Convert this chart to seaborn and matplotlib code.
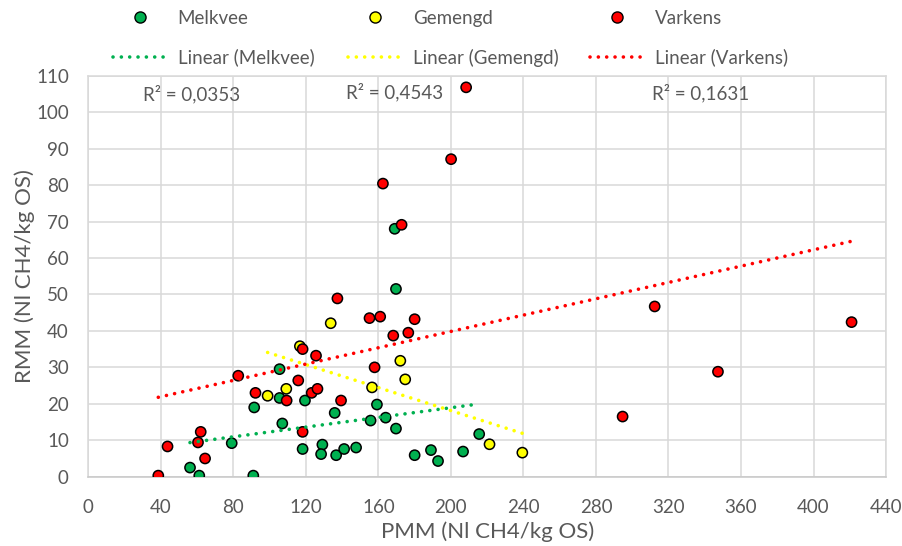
import numpy as np
import pandas as pd
import seaborn as sns
import matplotlib.pyplot as plt
from matplotlib.lines import Line2D

# PMM / RMM measurements per farm type (Nl CH4/kg OS)
melkvee_pmm = [105.5, 105.5, 119.5, 91.5, 135.9, 159.2, 107.0, 155.7, 79.1, 118.2,
               129.1, 128.4, 136.7, 141.1, 147.7, 56.1, 61.2, 91.0, 169.7, 164.0,
               169.7, 180.0, 189.0, 192.9, 206.7, 215.6, 169.0]
melkvee_rmm = [29.5, 21.6, 20.9, 19.0, 17.5, 19.8, 14.6, 15.4, 9.2, 7.6,
               8.8, 6.2, 5.9, 7.6, 8.0, 2.5, 0.3, 0.3, 51.5, 16.2,
               13.2, 5.9, 7.3, 4.3, 6.9, 11.7, 68.0]

gemengd_pmm = [133.7, 116.7, 109.2, 98.9, 156.5, 172.1, 174.8, 221.3, 239.4]
gemengd_rmm = [42.1, 35.8, 24.1, 22.2, 24.5, 31.8, 26.7, 8.9, 6.6]

varkens_pmm = [137.4, 155.1, 161.0, 118.2, 125.6, 82.7, 157.9, 115.8, 92.2, 109.4,
               123.2, 126.4, 139.4, 118.2, 62.0, 60.5, 43.7, 64.4, 38.6, 180.0,
               168.2, 176.5, 172.8, 208.4, 200.1, 162.5, 312.4, 421.0, 347.3, 294.7]
varkens_rmm = [48.9, 43.5, 43.9, 35.0, 33.2, 27.7, 30.0, 26.4, 23.0, 20.9,
               23.0, 24.1, 20.9, 12.3, 12.3, 9.4, 8.3, 5.0, 0.3, 43.2,
               38.7, 39.5, 69.1, 106.8, 87.1, 80.4, 46.7, 42.4, 28.8, 16.5]

groups = ["Melkvee", "Gemengd", "Varkens"]
colors = ["#00B050", "#FFFF00", "#FF0000"]
r2_labels = ["R² = 0,0353", "R² = 0,4543", "R² = 0,1631"]
r2_pos = [(56.7, 104.9), (168.9, 105.6), (337.9, 105.2)]

x_ticks = list(range(0, 441, 40))
y_ticks = list(range(0, 111, 10))

df = pd.DataFrame({
    "PMM": melkvee_pmm + gemengd_pmm + varkens_pmm,
    "RMM": melkvee_rmm + gemengd_rmm + varkens_rmm,
    "Type": (["Melkvee"] * len(melkvee_pmm) + ["Gemengd"] * len(gemengd_pmm)
             + ["Varkens"] * len(varkens_pmm)),
})

sns.set_theme(style="white")
plt.rcParams["font.family"] = ["Lato", "DejaVu Sans"]
text_color = "#595959"
grid_color = "#d9d9d9"

fig = plt.figure(figsize=(9.03, 5.46), dpi=100)
ax = fig.add_axes([0.0978, 0.1269, 0.9812 - 0.0978, 0.8614 - 0.1269])

sns.scatterplot(data=df, x="PMM", y="RMM", hue="Type", hue_order=groups,
                palette=colors, s=54, edgecolor="black", linewidth=1.1,
                legend=False, ax=ax, zorder=3)

# linear trendlines per group
for g, c in zip(groups, colors):
    sub = df[df["Type"] == g]
    sns.regplot(data=sub, x="PMM", y="RMM", scatter=False, ci=None, truncate=True,
                ax=ax, line_kws=dict(color=c, lw=2.6, linestyle=(0, (0.01, 2.3)),
                                     dash_capstyle="round", zorder=4))

for lbl, (tx, ty) in zip(r2_labels, r2_pos):
    ax.text(tx, ty, lbl, ha="center", va="center", fontsize=13.5, color=text_color)

ax.set_xlim(0, 440)
ax.set_ylim(0, 110)
ax.set_xticks(x_ticks)
ax.set_yticks(y_ticks)
ax.grid(True, color=grid_color, lw=1.1)
ax.set_axisbelow(True)
for sp in ax.spines.values():
    sp.set_color(grid_color)
    sp.set_linewidth(1.1)
ax.spines["bottom"].set_color("#c8c8c8")
ax.tick_params(axis="both", length=0, labelsize=13.5, labelcolor=text_color)
ax.tick_params(axis="y", pad=14)
ax.tick_params(axis="x", pad=16)
ax.set_xlabel("PMM (Nl CH4/kg OS)", fontsize=16, color=text_color, labelpad=4)
ax.set_ylabel("RMM (Nl CH4/kg OS)", fontsize=16, color=text_color, labelpad=0.5)

# legend: one column per farm type (marker row, trendline row)
col_x = [113, 348, 590]
for g, c, x0 in zip(groups, colors, col_x):
    handles = [
        Line2D([], [], linestyle="none", marker="o", markersize=8,
               markerfacecolor=c, markeredgecolor="black", markeredgewidth=1),
        Line2D([], [], color=c, lw=2.6, linestyle=(0, (0.01, 2.3)),
               dash_capstyle="round"),
    ]
    leg = fig.legend(handles, [g, f"Linear ({g})"], loc="upper left",
                     bbox_to_anchor=(x0 / 903, 1 - 10 / 546), frameon=False,
                     fontsize=13.5, handlelength=2.85, handletextpad=0.6,
                     labelspacing=1.16, borderpad=0, borderaxespad=0,
                     labelcolor=text_color)

fig.savefig("out.png", dpi=100)
